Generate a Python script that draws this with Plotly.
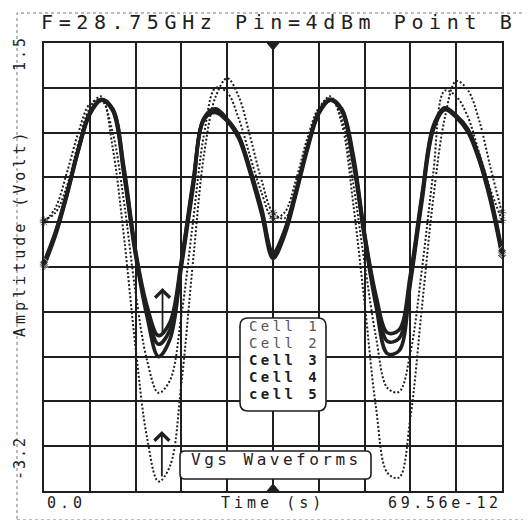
import plotly.graph_objects as go

# ---- data ----
time_ps = [0.000, 1.739, 3.478, 5.217, 6.956, 8.695, 10.434, 12.173, 13.912, 15.651,
           17.390, 19.129, 20.868, 22.607, 24.346, 26.085, 27.824, 29.563, 31.302, 33.041,
           34.780, 36.519, 38.258, 39.997, 41.736, 43.475, 45.214, 46.953, 48.692, 50.431,
           52.170, 53.909, 55.648, 57.387, 59.126, 60.865, 62.604, 64.343, 66.082, 67.821,
           69.560]

cell1 = [-0.36, -0.28, 0.00, 0.45, 0.82, 0.94, 0.40, -0.55, -1.70, -2.64,
         -3.10, -2.94, -2.07, -0.81, 0.35, 0.94, 1.13, 0.94, 0.52, 0.06,
         -0.28, -0.34, -0.07, 0.40, 0.80, 0.94, 0.66, -0.18, -1.23, -2.33,
         -3.01, -3.06, -2.43, -1.28, -0.13, 0.71, 1.10, 1.01, 0.69, 0.19,
         -0.28]
cell2 = [-0.38, -0.23, 0.14, 0.56, 0.86, 0.90, 0.56, -0.18, -1.12, -1.83,
         -2.17, -2.04, -1.36, -0.39, 0.56, 1.03, 0.98, 0.71, 0.31, -0.07,
         -0.34, -0.28, 0.06, 0.50, 0.82, 0.92, 0.71, 0.03, -0.81, -1.59,
         -2.12, -2.16, -1.75, -0.88, 0.14, 1.00, 0.94, 0.73, 0.35, -0.04,
         -0.36]
cell3 = [-0.84, -0.52, -0.10, 0.37, 0.75, 0.90, 0.79, 0.10, -0.73, -1.37,
         -1.79, -1.61, -0.85, -0.04, 0.70, 0.77, 0.68, 0.50, 0.14, -0.29,
         -0.76, -0.52, -0.09, 0.38, 0.76, 0.90, 0.79, 0.25, -0.55, -1.26,
         -1.76, -1.73, -1.02, -0.17, 0.59, 0.80, 0.72, 0.57, 0.27, -0.16,
         -0.73]
cell4 = [-0.82, -0.50, -0.09, 0.38, 0.76, 0.90, 0.80, 0.14, -0.70, -1.31,
         -1.66, -1.51, -0.81, 0.00, 0.71, 0.79, 0.69, 0.52, 0.16, -0.26,
         -0.73, -0.49, -0.07, 0.40, 0.77, 0.90, 0.80, 0.29, -0.52, -1.20,
         -1.63, -1.60, -0.97, -0.13, 0.61, 0.81, 0.73, 0.59, 0.29, -0.13,
         -0.70]
cell5 = [-0.80, -0.48, -0.07, 0.39, 0.77, 0.91, 0.81, 0.18, -0.68, -1.26,
         -1.57, -1.43, -0.78, 0.03, 0.72, 0.81, 0.70, 0.53, 0.18, -0.23,
         -0.70, -0.47, -0.05, 0.41, 0.78, 0.91, 0.81, 0.33, -0.50, -1.15,
         -1.54, -1.51, -0.93, -0.10, 0.63, 0.82, 0.74, 0.60, 0.31, -0.11,
         -0.68]

cell_names = ["Cell 1", "Cell 2", "Cell 3", "Cell 4", "cell 5"]
x_range = [0.0, 69.56]
y_range = [-3.2, 1.5]
x_labels = ["0.0", "69.56e-12"]
y_labels = ["-3.2", "1.5"]
title_text = "F=28.75GHz Pin=4dBm Point B"
x_title = "Time (s)"
y_title = "Amplitude (Volt)"
box_text = "Vgs Waveforms"

# ---- styling ----
INK = "#1d201d"
FONT = "DejaVu Sans Mono"

fig = go.Figure()

n = len(time_ps)
solid = [(cell_names[2], cell3), (cell_names[3], cell4), (cell_names[4], cell5)]
dotted = [(cell_names[0], cell1), (cell_names[1], cell2)]
thick_marks = [7 if i in (0, n - 1) else 0 for i in range(n)]
dot_marks = [7 if i in (0, n // 2, n - 1) else 0 for i in range(n)]
for name, vals in solid:
    fig.add_trace(go.Scatter(x=time_ps, y=vals, mode="lines+markers", name=name,
                             line=dict(color=INK, width=3.6, shape="spline", smoothing=1.0),
                             marker=dict(symbol="diamond", size=thick_marks, color=INK),
                             cliponaxis=False, showlegend=False))
for name, vals in dotted:
    fig.add_trace(go.Scatter(x=time_ps, y=vals, mode="lines+markers", name=name,
                             line=dict(color=INK, width=2.0, dash="2px,2px", shape="spline", smoothing=1.0),
                             marker=dict(symbol="asterisk-open", size=dot_marks, color=INK,
                                         line=dict(color=INK, width=1)),
                             cliponaxis=False, showlegend=False))

L, R, T, B = 36, 37, 35, 37
W, H = 531, 520
pw, ph = W - L - R, H - T - B


def px_x(px):
    return (px - L) / pw


def px_y(py):
    return (H - B - py) / ph


def rrect(x0, y0, x1, y1, r):
    X0, X1 = px_x(x0), px_x(x1)
    Yt, Yb = px_y(y0), px_y(y1)
    rx, ry = r / pw, r / ph
    return (f"M{X0+rx},{Yt} L{X1-rx},{Yt} Q{X1},{Yt} {X1},{Yt-ry} "
            f"L{X1},{Yb+ry} Q{X1},{Yb} {X1-rx},{Yb} L{X0+rx},{Yb} "
            f"Q{X0},{Yb} {X0},{Yb+ry} L{X0},{Yt-ry} Q{X0},{Yt} {X0+rx},{Yt} Z")


shapes = [
    dict(type="rect", xref="paper", yref="paper", x0=px_x(9), x1=px_x(524), y0=px_y(512), y1=px_y(5),
         line=dict(color="#777", width=1, dash="dot"), layer="below"),
    dict(type="path", xref="paper", yref="paper", path=rrect(232, 310, 318, 403, 8),
         fillcolor="white", line=dict(color=INK, width=1.6), layer="above"),
    dict(type="path", xref="paper", yref="paper", path=rrect(172, 443, 363, 471, 5),
         fillcolor="white", line=dict(color=INK, width=1.6), layer="above"),
    dict(type="path", xref="paper", yref="paper",
         path=f"M{px_x(259)},{px_y(35)} L{px_x(271)},{px_y(35)} L{px_x(265)},{px_y(42)} Z",
         fillcolor=INK, line=dict(color=INK, width=1), layer="above"),
    dict(type="path", xref="paper", yref="paper",
         path=f"M{px_x(259)},{px_y(483)} L{px_x(271)},{px_y(483)} L{px_x(265)},{px_y(476)} Z",
         fillcolor=INK, line=dict(color=INK, width=1), layer="above"),
]


def spaced(txt, ls):
    return f'<span style="letter-spacing:{ls}px">{txt}</span>'


ann = []
ann.append(dict(xref="paper", yref="paper", x=px_x(31), y=px_y(14), xanchor="left", yanchor="middle",
                text=spaced(title_text, 5.6), showarrow=False,
                font=dict(family=FONT, size=20, color=INK)))
for txt, xx, anchor, ls in [(x_labels[0], 37, "left", 4), (x_labels[1], 496, "right", 3.6),
                            (x_title, 265, "center", 4)]:
    ann.append(dict(xref="paper", yref="paper", x=px_x(xx), y=px_y(495), xanchor=anchor, yanchor="middle",
                    text=spaced(txt, ls), showarrow=False, font=dict(family=FONT, size=15, color=INK)))
for txt, yy, ls in [(y_labels[1], 45, 3), (y_labels[0], 450, 2), (y_title, 225, 4)]:
    ann.append(dict(xref="paper", yref="paper", x=px_x(12), y=px_y(yy), xanchor="center", yanchor="middle",
                    text=spaced(txt, ls), textangle=-90, showarrow=False,
                    font=dict(family=FONT, size=15, color=INK)))

rows = [318, 335, 352, 369, 386]
for i, (name, row) in enumerate(zip(cell_names, rows)):
    txt = spaced(name, 3.4)
    if i >= 2:
        txt = "<b>" + txt + "</b>"
    ann.append(dict(xref="paper", yref="paper", x=px_x(239), y=px_y(row), xanchor="left", yanchor="middle",
                    text=txt, showarrow=False,
                    font=dict(family=FONT, size=14, color=INK if i >= 2 else "#555")))

ann.append(dict(xref="paper", yref="paper", x=px_x(268), y=px_y(451), xanchor="center", yanchor="middle",
                text=spaced(box_text, 3.5), showarrow=False, font=dict(family=FONT, size=16, color=INK)))

ann.append(dict(xref="x", yref="y", x=18.0, y=-1.07, ax=0, ay=48, axref="pixel", ayref="pixel",
                showarrow=True, arrowhead=4, arrowsize=1.6, arrowwidth=1.8, arrowcolor=INK, text=""))
ann.append(dict(xref="x", yref="y", x=17.9, y=-2.57, ax=0, ay=47, axref="pixel", ayref="pixel",
                showarrow=True, arrowhead=4, arrowsize=1.6, arrowwidth=1.8, arrowcolor=INK, text=""))

fig.update_layout(
    width=W, height=H,
    margin=dict(l=L, r=R, t=T, b=B, pad=0),
    paper_bgcolor="white", plot_bgcolor="white",
    shapes=shapes, annotations=ann,
    showlegend=False,
)
fig.update_xaxes(range=x_range, tick0=0, dtick=6.956, showgrid=True, gridcolor=INK, gridwidth=1.6,
                 showticklabels=False, ticks="", zeroline=False,
                 showline=True, mirror=True, linecolor=INK, linewidth=2)
fig.update_yaxes(range=y_range, tick0=-3.2, dtick=0.47, showgrid=True, gridcolor=INK, gridwidth=1.6,
                 showticklabels=False, ticks="", zeroline=False,
                 showline=True, mirror=True, linecolor=INK, linewidth=2)

fig.write_html("out.html")
